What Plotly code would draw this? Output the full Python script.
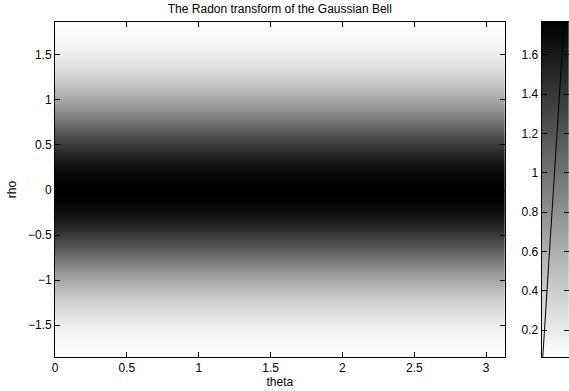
import plotly.graph_objects as go

# Projection angle samples (radians) and radial offsets
theta = [0.0, 0.5, 1.0, 1.5, 2.0, 2.5, 3.129]
rho = [-1.9, -1.8, -1.7, -1.6, -1.5, -1.4, -1.3, -1.2, -1.1, -1.0,
       -0.9, -0.8, -0.7, -0.6, -0.5, -0.4, -0.3, -0.2, -0.1, 0.0,
       0.1, 0.2, 0.3, 0.4, 0.5, 0.6, 0.7, 0.8, 0.9, 1.0,
       1.1, 1.2, 1.3, 1.4, 1.5, 1.6, 1.7, 1.8, 1.9]
# Radon profile along rho (identical for every angle)
profile = [0.048, 0.069, 0.099, 0.137, 0.187, 0.250, 0.327, 0.420, 0.529, 0.652,
           0.787, 0.935, 1.087, 1.239, 1.380, 1.512, 1.617, 1.703, 1.755, 1.772,
           1.755, 1.703, 1.617, 1.512, 1.380, 1.239, 1.087, 0.935, 0.787, 0.652,
           0.529, 0.420, 0.327, 0.250, 0.187, 0.137, 0.099, 0.069, 0.048]

x_ticks = [0, 0.5, 1, 1.5, 2, 2.5, 3]
y_ticks = [-1.5, -1, -0.5, 0, 0.5, 1, 1.5]
cb_ticks = [0.2, 0.4, 0.6, 0.8, 1.0, 1.2, 1.4, 1.6]
x_range = [0, 3.129]
y_range = [-1.855, 1.866]
c_range = [0.063, 1.767]

# colorbar band: levels from the profile, and its diagonal guide line
cb_levels = sorted(set(profile))
cb_line_x = [0.04, 0.82]

gray_r = [[0, "rgb(255,255,255)"], [1, "rgb(0,0,0)"]]
font = dict(family="Liberation Sans, Arial, sans-serif", size=12, color="black")

z = [[v] * len(theta) for v in profile]

fig = go.Figure()
fig.add_trace(go.Heatmap(
    x=theta, y=rho, z=z, colorscale=gray_r, zmin=c_range[0], zmax=c_range[1],
    zsmooth="best", showscale=False, xaxis="x", yaxis="y"))
fig.add_trace(go.Heatmap(
    x=[0, 1], y=cb_levels, z=[[v, v] for v in cb_levels], colorscale=gray_r,
    zmin=c_range[0], zmax=c_range[1], zsmooth="best", showscale=False,
    xaxis="x2", yaxis="y2"))
fig.add_trace(go.Scatter(
    x=cb_line_x, y=c_range, mode="lines", line=dict(color="black", width=1),
    showlegend=False, xaxis="x2", yaxis="y2", hoverinfo="skip"))

W, H = 569, 391
ml, mr, mt, mb = 55, 0, 22, 34
pw = W - ml - mr

axis_common = dict(showline=True, linecolor="black", linewidth=1, mirror="ticks",
                   ticks="inside", ticklen=5, tickcolor="black", tickwidth=1,
                   showgrid=False, zeroline=False, tickfont=font)

fig.update_layout(
    width=W, height=H,
    margin=dict(l=ml, r=mr, t=mt, b=mb),
    paper_bgcolor="white", plot_bgcolor="white",
    font=font, showlegend=False,
    title=dict(text="The Radon transform of the Gaussian Bell", font=font,
               x=(55 + 504.7) / 2 / W, xref="container", xanchor="center",
               y=1 - 9 / H, yref="container", yanchor="middle"),
    xaxis=dict(domain=[0, (504.7 - ml) / pw], range=x_range, tickvals=x_ticks,
               ticktext=[f"{v:g}" for v in x_ticks],
               title=dict(text="theta", font=font, standoff=2), anchor="y",
               **axis_common),
    yaxis=dict(domain=[0, 1], range=y_range, tickvals=y_ticks,
               ticktext=[f"{v:g}".replace("-", "\u2212") for v in y_ticks],
               title=dict(text="rho", font=font, standoff=8), anchor="x",
               **axis_common),
    xaxis2=dict(domain=[(541.7 - ml) / pw, 1], range=[0, 1], anchor="y2",
                showticklabels=False, showline=True, linecolor="black",
                linewidth=1, mirror=True, ticks="", showgrid=False,
                zeroline=False),
    yaxis2=dict(domain=[0, 1], range=c_range, tickvals=cb_ticks,
                ticktext=[f"{v:g}" for v in cb_ticks], anchor="x2", side="left",
                **axis_common),
)

fig.write_html("out.html")
